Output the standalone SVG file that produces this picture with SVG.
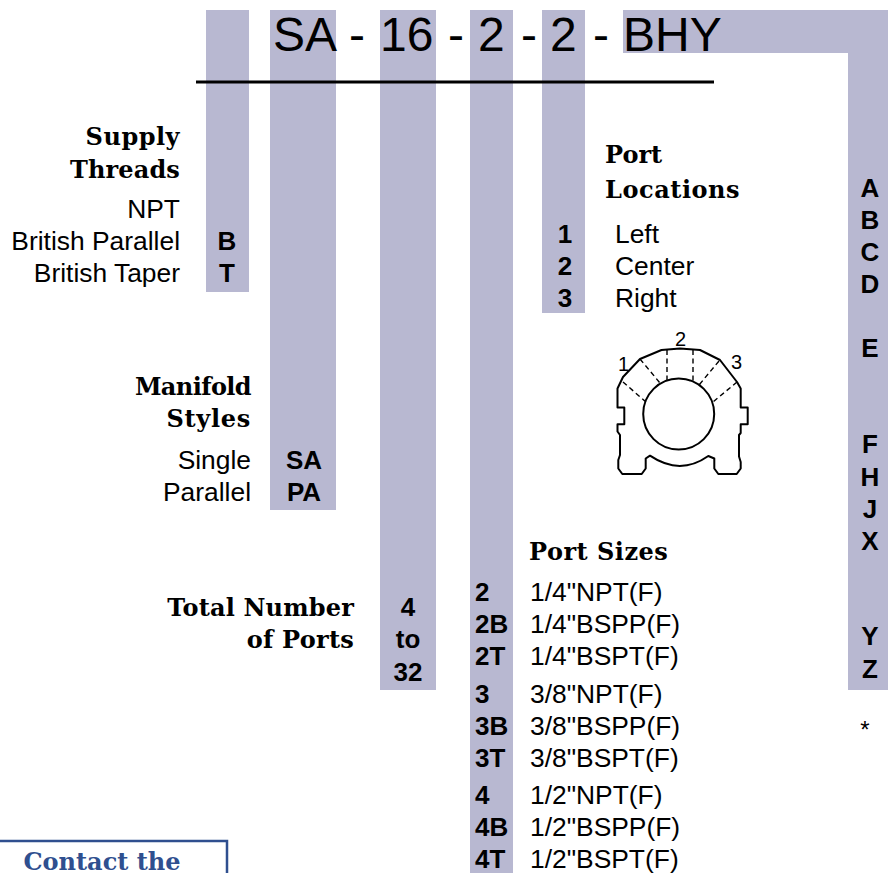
<svg xmlns="http://www.w3.org/2000/svg" width="888" height="873" viewBox="0 0 888 873">
<style>
.bar{fill:#b8b8d1}
text{font-family:"Liberation Sans",Arial,sans-serif;fill:#000}
.s{font-size:26.4px}
.b{font-size:26px;font-weight:bold}
.h{font-family:"DejaVu Serif",serif;font-weight:bold;font-size:24px}
.r{text-anchor:end}
.m{text-anchor:middle}
.big{font-size:48px}
.n{font-size:20px}
.d{fill:none;stroke:#000;stroke-width:1.4;stroke-dasharray:5 3.5}
</style>
<g id="bars">
<rect class="bar" x="206" y="10" width="43" height="282"/>
<rect class="bar" x="270" y="10" width="66" height="500"/>
<rect class="bar" x="380" y="10" width="56" height="680"/>
<rect class="bar" x="470" y="10" width="43" height="863"/>
<rect class="bar" x="542" y="10" width="43" height="303"/>
<path class="bar" d="M623 10H888V690H848V53H623Z"/>
</g>
<g id="code">
<text class="big" x="273" y="51">SA</text>
<text class="big" x="349" y="51">-</text>
<text class="big" x="380" y="51">16</text>
<text class="big" x="448" y="51">-</text>
<text class="big" x="478" y="51">2</text>
<text class="big" x="521" y="51">-</text>
<text class="big" x="550" y="51">2</text>
<text class="big" x="593" y="51">-</text>
<text class="big" x="623" y="51">BHY</text>
<rect x="196" y="80.500" width="518" height="3" fill="#000"/>
</g>
<g id="supply-threads">
<text class="h r" x="180" y="145" letter-spacing=".5">Supply</text>
<text class="h r" x="180" y="178" letter-spacing=".15">Threads</text>
<text class="s r" x="180" y="218">NPT</text>
<text class="s r" x="180" y="250">British Parallel</text>
<text class="s r" x="180" y="282">British Taper</text>
<text class="b m" x="227" y="250">B</text>
<text class="b m" x="227" y="282">T</text>
</g>
<g id="manifold-styles">
<text class="h r" x="251" y="395" letter-spacing="-.6">Manifold</text>
<text class="h r" x="251" y="427" letter-spacing=".7">Styles</text>
<text class="s r" x="251" y="469">Single</text>
<text class="s r" x="251" y="501">Parallel</text>
<text class="b m" x="304" y="469">SA</text>
<text class="b m" x="304" y="501">PA</text>
</g>
<g id="total-ports">
<text class="h r" x="354" y="616" letter-spacing=".17">Total Number</text>
<text class="h r" x="354" y="648" letter-spacing=".25">of Ports</text>
<text class="b m" x="408" y="616">4</text>
<text class="b m" x="408" y="648">to</text>
<text class="b m" x="408" y="681">32</text>
</g>
<g id="port-locations">
<text class="h" x="605" y="163">Port</text>
<text class="h" x="605" y="198" letter-spacing=".55">Locations</text>
<text class="b m" x="565" y="243">1</text>
<text class="b m" x="565" y="275">2</text>
<text class="b m" x="565" y="307">3</text>
<text class="s" x="615" y="243">Left</text>
<text class="s" x="615" y="275">Center</text>
<text class="s" x="615" y="307">Right</text>
</g>
<g id="port-diagram">
<path fill="none" stroke="#000" stroke-width="2" stroke-linejoin="round" d="M617.500 388.500L623 377L640 359L661.500 350L680 348.500L700 350L720 360L737 382L740.700 388.500V407.500H747.700V424.300H740.700V433L739 435V456.500L740.700 462V468.500L736.700 474H718.300L714.300 468.500V458.500L708.300 456Q680 476 650 455.700L645.700 458.500V468.500L641.700 474H622.300L618.300 468.500V460L620 455V435L617.500 431.500V424.300H624.300V407.500H617.500Z"/>
<circle cx="678.700" cy="414" r="35.500" fill="none" stroke="#000" stroke-width="2"/>
<path class="d" d="M623 382L646 402"/>
<path class="d" d="M640 359L660 383"/>
<path class="d" d="M667 350V381" stroke-width="1.800"/>
<path class="d" d="M693 350V380L689 381"/>
<path class="d" d="M719 361L699 385"/>
<path class="d" d="M737 382L713 402"/>
<text class="n" x="618" y="371">1</text>
<text class="n" x="675" y="346">2</text>
<text class="n" x="731" y="369">3</text>
</g>
<g id="port-sizes">
<text class="h" x="529" y="560" letter-spacing=".5">Port Sizes</text>
<text class="b" x="475" y="601">2</text>
<text class="b" x="475" y="633">2B</text>
<text class="b" x="475" y="665">2T</text>
<text class="b" x="475" y="703">3</text>
<text class="b" x="475" y="735">3B</text>
<text class="b" x="475" y="767">3T</text>
<text class="b" x="475" y="804">4</text>
<text class="b" x="475" y="836">4B</text>
<text class="b" x="475" y="868">4T</text>
<text class="s" x="530" y="601">1/4"NPT(F)</text>
<text class="s" x="530" y="633">1/4"BSPP(F)</text>
<text class="s" x="530" y="665">1/4"BSPT(F)</text>
<text class="s" x="530" y="703">3/8"NPT(F)</text>
<text class="s" x="530" y="735">3/8"BSPP(F)</text>
<text class="s" x="530" y="767">3/8"BSPT(F)</text>
<text class="s" x="530" y="804">1/2"NPT(F)</text>
<text class="s" x="530" y="836">1/2"BSPP(F)</text>
<text class="s" x="530" y="868">1/2"BSPT(F)</text>
</g>
<g id="options">
<text class="b m" x="870" y="197">A</text>
<text class="b m" x="870" y="229">B</text>
<text class="b m" x="870" y="261">C</text>
<text class="b m" x="870" y="293">D</text>
<text class="b m" x="870" y="357">E</text>
<text class="b m" x="870" y="453">F</text>
<text class="b m" x="870" y="486">H</text>
<text class="b m" x="870" y="518">J</text>
<text class="b m" x="870" y="550">X</text>
<text class="b m" x="870" y="645">Y</text>
<text class="b m" x="870" y="678">Z</text>
<text class="m" x="865" y="738" font-size="24">*</text>
</g>
<g id="contact">
<path fill="none" stroke="#2f4f8f" stroke-width="2.500" d="M0 841H227V873"/>
<text x="102" y="870" text-anchor="middle" style="font-family:'DejaVu Serif',serif;font-weight:bold;font-size:24px;fill:#2f4f8f">Contact the</text>
</g>
</svg>
